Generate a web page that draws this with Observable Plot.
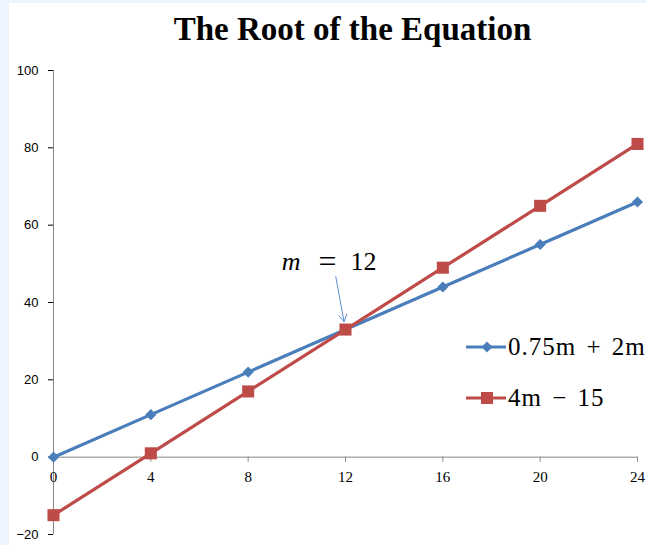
<!DOCTYPE html>
<html>
<head>
<meta charset="utf-8">
<script src="https://cdn.jsdelivr.net/npm/d3@7"></script>
<script src="https://cdn.jsdelivr.net/npm/@observablehq/plot@0.6"></script>
<style>
  html, body { margin: 0; padding: 0; }
  body { width: 646px; height: 545px; background: #eef4fd; overflow: hidden; position: relative; }
  #chart { position: absolute; left: 9px; top: 3px; width: 637px; height: 542px; background: #fff; overflow: hidden; }
  .legend { position: absolute; left: 457px; font-family: "Liberation Serif", serif; font-size: 25px; letter-spacing: 1px; color: #000; white-space: nowrap; display: flex; align-items: center; }
  .legend svg { display: block; margin-right: 2px; }
</style>
</head>
<body>
<div id="chart"></div>
<script>
// m values along the x axis
const mValues = [0, 4, 8, 12, 16, 20, 24];
// 0.75m + 2m
const seriesA = [0, 11, 22, 33, 44, 55, 66];
// 4m − 15
const seriesB = [-15, 1, 17, 33, 49, 65, 81];
const seriesNames = ["0.75m + 2m", "4m \u2212 15"];
const seriesColors = ["#4a7ebb", "#be4b48"];
const xTicks = [0, 4, 8, 12, 16, 20, 24];
const yTicks = [-20, 0, 20, 40, 60, 80, 100];
// where the two lines meet
const root = {m: 12, value: 33};

const rowsA = mValues.map((m, i) => ({m, value: seriesA[i]}));
const rowsB = mValues.map((m, i) => ({m, value: seriesB[i]}));

const axisGray = "#868686";
const serif = "'Liberation Serif', serif";
const W = 637, H = 542;

const chart = Plot.plot({
  width: W,
  height: H,
  marginLeft: 44,
  marginRight: 9,
  marginTop: 67,
  marginBottom: 11,
  style: {background: "transparent", fontFamily: "'Liberation Sans', sans-serif", fontSize: "13px", color: "#000", overflow: "visible"},
  x: {domain: [0, 24], axis: null},
  y: {domain: [-20, 100], ticks: yTicks, tickSize: 5, tickPadding: 10, label: null, line: false},
  marks: [
    // axis lines and x ticks along y = 0
    Plot.ruleX([0], {stroke: axisGray, strokeWidth: 1}),
    Plot.ruleY([0], {stroke: axisGray, strokeWidth: 1}),
    Plot.ruleX(xTicks, {x: d => d, y1: 0, y2: 0, insetBottom: -5, stroke: axisGray}),
    Plot.text(xTicks, {x: d => d, y: 0, dy: 20, text: d => String(d), fontFamily: serif, fontSize: 15, fill: "#000"}),
    // title
    Plot.text(["The Root of the Equation"], {frameAnchor: "top", dx: 7, dy: -31, lineAnchor: "bottom", fontFamily: serif, fontWeight: "bold", fontSize: 33, fill: "#000"}),
    // series
    Plot.line(rowsA, {x: "m", y: "value", stroke: seriesColors[0], strokeWidth: 3.2}),
    Plot.line(rowsB, {x: "m", y: "value", stroke: seriesColors[1], strokeWidth: 3.2}),
    Plot.dot(rowsA, {x: "m", y: "value", symbol: "diamond2", r: 5, fill: seriesColors[0], stroke: "none"}),
    Plot.dot(rowsB, {x: "m", y: "value", symbol: "square", r: 6.8, fill: seriesColors[1], stroke: "none"}),
    // annotation at the root
    Plot.arrow([root], {x1: d => d.m - 0.4, y1: d => d.value + 13.7, x2: "m", y2: "value", insetEnd: 8, stroke: "#5b8fd0", strokeWidth: 1, headLength: 12}),
    Plot.text([root], {x: "m", y: "value", dx: -45, dy: -68, text: () => "m", textAnchor: "end", fontStyle: "italic", fontFamily: serif, fontSize: 26, fill: "#000"}),
    Plot.text([root], {x: "m", y: "value", dx: -18, dy: -68, text: () => "=", textAnchor: "middle", fontFamily: serif, fontSize: 32, fill: "#000"}),
    Plot.text([root], {x: "m", y: "value", dx: 5, dy: -68, text: () => "12", textAnchor: "start", fontFamily: serif, fontSize: 26, letterSpacing: 1, fill: "#000"})
  ]
});
document.getElementById("chart").appendChild(chart);

// legend
const legendTops = [347, 398];
seriesNames.forEach((name, i) => {
  const row = document.createElement("div");
  row.className = "legend";
  row.style.top = (legendTops[i] - 3 - 14) + "px";
  row.style.height = "28px";
  const icon = d3.create("svg").attr("width", 40).attr("height", 28);
  icon.append("line").attr("x1", 0).attr("x2", 40).attr("y1", 14).attr("y2", 14)
    .attr("stroke", seriesColors[i]).attr("stroke-width", 3);
  if (i === 0) {
    icon.append("path").attr("d", d3.symbol(d3.symbolDiamond2, 77)()).attr("transform", "translate(21,14)").attr("fill", seriesColors[i]);
  } else {
    icon.append("rect").attr("x", 15).attr("y", 8).attr("width", 12).attr("height", 12).attr("fill", seriesColors[i]);
  }
  row.appendChild(icon.node());
  const label = document.createElement("span");
  label.textContent = name;
  label.style.wordSpacing = "3px";
  row.appendChild(label);
  document.getElementById("chart").appendChild(row);
});
</script>
</body>
</html>
